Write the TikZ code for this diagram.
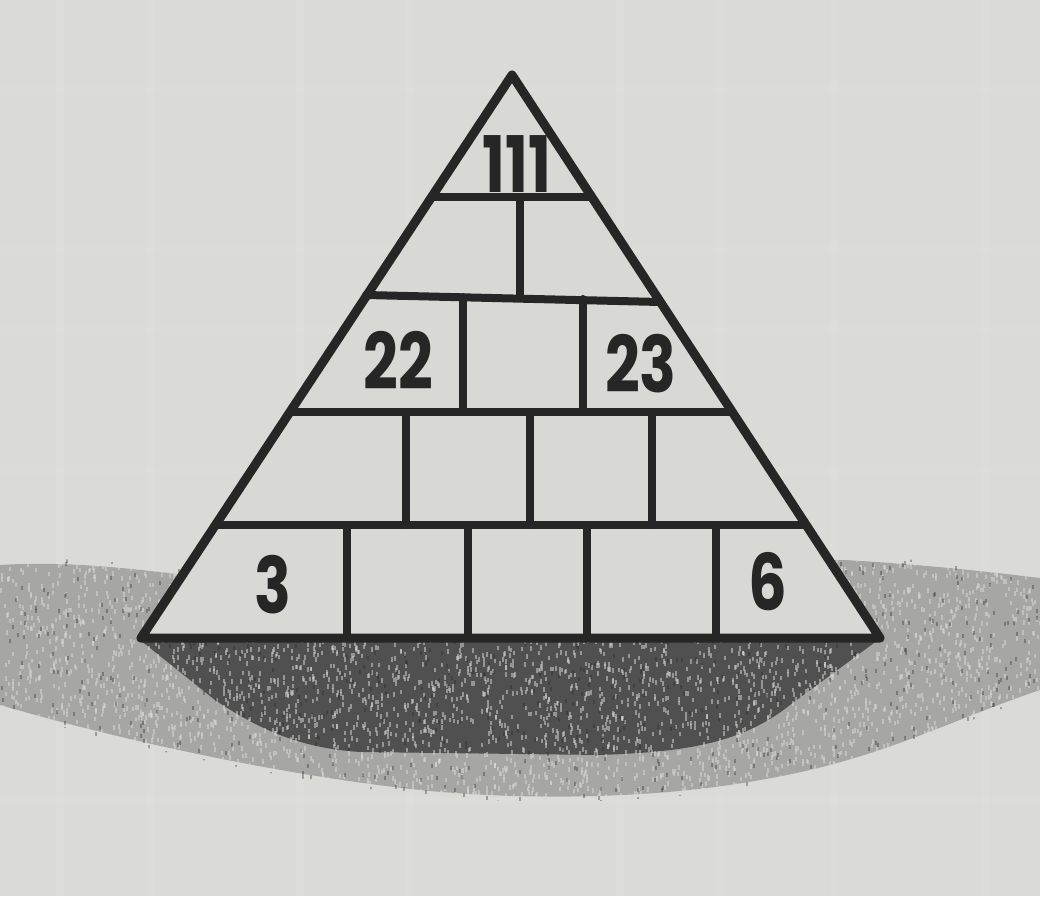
\documentclass[tikz,border=0pt]{standalone}
\usepackage{fontspec}
\setmainfont{Poppins}
\begin{document}
\begin{tikzpicture}[x=1pt,y=-1pt,
  edge/.style={line width=8pt,draw=ink,line cap=round,line join=round},
  num/.style={font=\fontsize{78}{78}\selectfont\bfseries,text=ink,inner sep=0pt,xscale=0.78}]
\definecolor{ink}{HTML}{262626}
\definecolor{paper}{HTML}{DADAD6}
\definecolor{paperlt}{HTML}{E2E2DF}
\definecolor{stone}{HTML}{D8D8D4}
\definecolor{halo}{HTML}{9A9A98}
\definecolor{core}{HTML}{505050}
\useasboundingbox (0,0) rectangle (1040,896);
\fill[paper] (0,0) rectangle (1040,896);
% faint grid seen through the paper
\foreach \gx in {60,150,300,410,620,720,835,985}
  \draw[paperlt,line width=8pt,opacity=0.35] (\gx,0) -- (\gx,896);
\foreach \gy in {90,250,330,470,800}
  \draw[paperlt,line width=6pt,opacity=0.3] (0,\gy) -- (1040,\gy);
% shadow halo
\fill[halo,opacity=0.8] (0,565) .. controls (80,560) and (150,572) .. (190,575)
  -- (845,560) .. controls (930,565) and (990,572) .. (1040,578)
  -- (1040,690) .. controls (950,720) and (880,760) .. (760,780)
  .. controls (650,800) and (520,800) .. (420,790)
  .. controls (280,775) and (120,740) .. (0,705) -- cycle;
% shadow core
\fill[core] (140,640) -- (215,700) .. controls (260,730) and (300,748) .. (360,752)
  -- (600,755) .. controls (680,752) and (740,745) .. (790,705) -- (878,640) -- cycle;
% stipple texture, within the shadow
\begin{scope}
\clip (0,560) .. controls (80,555) and (150,567) .. (190,570)
  -- (845,555) .. controls (930,560) and (990,567) .. (1040,573)
  -- (1040,695) .. controls (950,725) and (880,765) .. (760,785)
  .. controls (650,805) and (520,805) .. (420,795)
  .. controls (280,780) and (120,745) .. (0,710) -- cycle;
\pgfmathsetseed{7}
\foreach \i in {1,...,4500}{
  \pgfmathsetmacro\px{rnd*1040}
  \pgfmathsetmacro\py{555+rnd*255}
  \fill[paper,opacity=0.5] (\px,\py) rectangle ++(2,4.5);
}
\foreach \i in {1,...,900}{
  \pgfmathsetmacro\px{rnd*1040}
  \pgfmathsetmacro\py{555+rnd*255}
  \fill[ink,opacity=0.35] (\px,\py) rectangle ++(2,4);
}
\end{scope}
% pyramid body
\coordinate (apex) at (512,75);
\coordinate (bl) at (141,638);
\coordinate (br) at (880,638);
\fill[stone] (apex) -- (bl) -- (br) -- cycle;
% row lines
\coordinate (r1l) at (432,197); \coordinate (r1r) at (592,197);
\coordinate (r2l) at (366,295); \coordinate (r2r) at (660,302);
\coordinate (r3l) at (290,412); \coordinate (r3r) at (732,412);
\coordinate (r4l) at (216,525); \coordinate (r4r) at (806,525);
\draw[edge] (r1l) -- (r1r);
\draw[edge] (r2l) -- (r2r);
\draw[edge] (r3l) -- (r3r);
\draw[edge] (r4l) -- (r4r);
% vertical dividers
\foreach \n/\x/\ya/\yb in {d1/520/197/297,
  d2/463/297/412, d3/583/299/412,
  d4/406/412/525, d5/530/412/525, d6/652/412/525,
  d7/347/525/638, d8/468/525/638, d9/587/525/638, d10/716/525/638}{
  \coordinate (\n a) at (\x,\ya); \coordinate (\n b) at (\x,\yb);
  \draw[edge] (\n a) -- (\n b);
}
% outline
\draw[edge,line width=9pt] (apex) -- (bl) -- (br) -- cycle;
% numbers
\node[num] (n111) at (517,164) {111};
\node[num] (n22) at (398,360) {22};
\node[num] (n23) at (641,364) {23};
\node[num] (n3) at (273,585) {3};
\node[num] (n6) at (768,582) {6};
\end{tikzpicture}
\end{document}
